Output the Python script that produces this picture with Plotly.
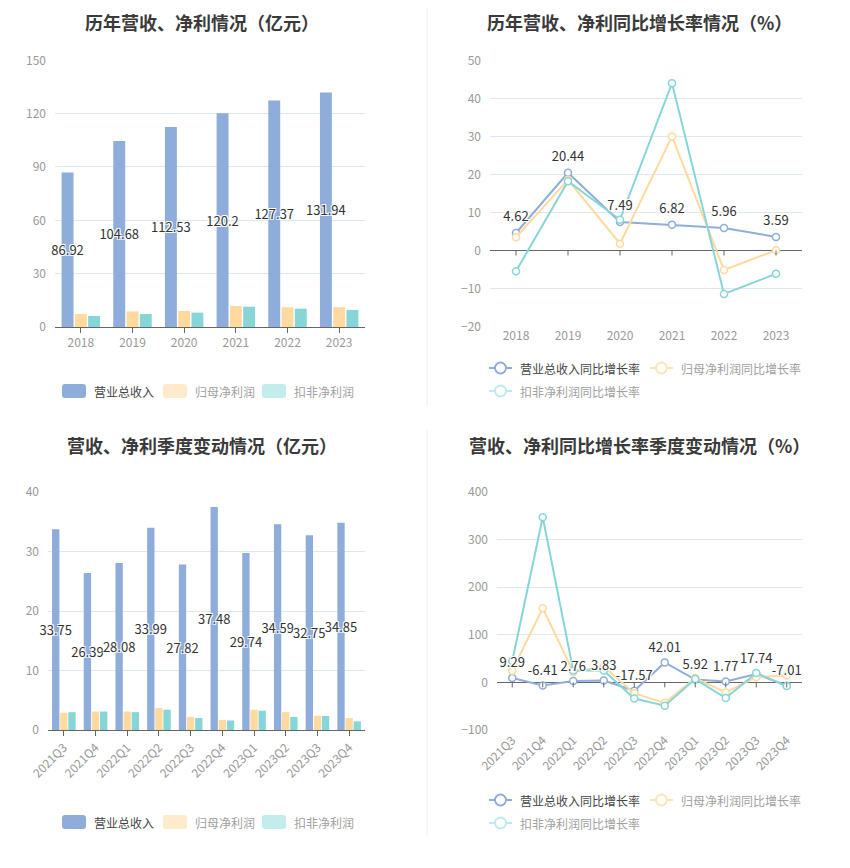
import plotly.graph_objects as go

# ---------------- data ----------------
years = ["2018", "2019", "2020", "2021", "2022", "2023"]
rev_year = [86.92, 104.68, 112.53, 120.2, 127.37, 131.94]
np_year = [7.3, 8.8, 9.0, 11.8, 11.1, 11.1]
dnp_year = [6.2, 7.3, 8.1, 11.4, 10.3, 9.6]

rev_yoy = [4.62, 20.44, 7.49, 6.82, 5.96, 3.59]
np_yoy = [3.5, 18.6, 1.8, 30.0, -5.1, 0.1]
dnp_yoy = [-5.4, 18.2, 8.1, 44.0, -11.4, -6.1]

quarters = ["2021Q3", "2021Q4", "2022Q1", "2022Q2", "2022Q3",
            "2022Q4", "2023Q1", "2023Q2", "2023Q3", "2023Q4"]
rev_q = [33.75, 26.39, 28.08, 33.99, 27.82, 37.48, 29.74, 34.59, 32.75, 34.85]
np_q = [2.9, 3.1, 3.1, 3.7, 2.2, 1.7, 3.4, 3.0, 2.4, 2.0]
dnp_q = [3.0, 3.1, 3.0, 3.4, 2.0, 1.6, 3.25, 2.2, 2.35, 1.45]

rev_q_yoy = [9.29, -6.41, 2.76, 3.83, -17.57, 42.01, 5.92, 1.77, 17.74, -7.01]
np_q_yoy = [24.5, 156, 22, 33, -23, -43, 9, -21, 11, 14.7]
dnp_q_yoy = [45, 347, 25, 25, -34, -49, 7, -33, 19.6, -7.7]

titles = ["历年营收、净利情况（亿元）", "历年营收、净利同比增长率情况（%）",
          "营收、净利季度变动情况（亿元）", "营收、净利同比增长率季度变动情况（%）"]
bar_names = ["营业总收入", "归母净利润", "扣非净利润"]
line_names = ["营业总收入同比增长率", "归母净利润同比增长率", "扣非净利润同比增长率"]

# ---------------- style ----------------
W, H = 850, 868
OFF = 8  # page body margin
FONT = "Noto Sans CJK SC, Noto Sans, sans-serif"
C_BLUE, C_ORANGE, C_TEAL = "#8eaddb", "#ffd99d", "#86d6d8"
LEG_BAR = ["#8eaddb", "#ffebcc", "#c3ecec"]
LEG_LINE = ["#8eaddb", "#ffe2b5", "#bfe9ea"]
LEG_TXT = ["#444444", "#a0a0a0", "#a0a0a0"]
GRID = "#e0e6f1"
HALO = "-1px -1px 0 #fff, 1px -1px 0 #fff, -1px 1px 0 #fff, 1px 1px 0 #fff"


def px(x):
    return (x - OFF) / W


def py(y):
    return 1 - (y - OFF) / H


fig = go.Figure()

# ---- chart 1: yearly bars ----
for vals, name, col in [(rev_year, bar_names[0], C_BLUE),
                        (np_year, bar_names[1], C_ORANGE),
                        (dnp_year, bar_names[2], C_TEAL)]:
    kw = {}
    if vals is rev_year:
        kw = dict(text=[f"{v:g}" for v in vals], textposition="inside",
                  insidetextanchor="middle", textangle=0, constraintext="none",
                  insidetextfont=dict(color="#333", size=13, family=FONT, shadow=HALO))
    fig.add_trace(go.Bar(x=years, y=vals, name=name, marker_color=col, cliponaxis=False,
                         xaxis="x", yaxis="y", showlegend=False, **kw))

# ---- chart 3: quarterly bars ----
for vals, name, col in [(rev_q, bar_names[0], C_BLUE),
                        (np_q, bar_names[1], C_ORANGE),
                        (dnp_q, bar_names[2], C_TEAL)]:
    kw = {}
    if vals is rev_q:
        kw = dict(text=[f"{v:g}" for v in vals], textposition="inside",
                  insidetextanchor="middle", textangle=0, constraintext="none",
                  insidetextfont=dict(color="#333", size=13, family=FONT, shadow=HALO))
    fig.add_trace(go.Bar(x=quarters, y=vals, name=name, marker_color=col, cliponaxis=False,
                         xaxis="x3", yaxis="y3", showlegend=False, **kw))


def add_lines(cats, series, xa, ya, label_vals, lab_size):
    for vals, name, col in series:
        fig.add_trace(go.Scatter(
            x=cats, y=vals, name=name, mode="lines+markers",
            line=dict(color=col, width=2), cliponaxis=False,
            marker=dict(symbol="circle", size=7, color="white",
                        line=dict(color=col, width=1.5)),
            xaxis=xa, yaxis=ya, showlegend=False))
    fig.add_trace(go.Scatter(
        x=cats, y=label_vals, mode="markers+text", cliponaxis=False,
        marker=dict(size=lab_size, color="rgba(0,0,0,0)"),
        text=[f"{v:g}" for v in label_vals], textposition="top center",
        textfont=dict(color="#333", size=13, family=FONT, shadow=HALO),
        xaxis=xa, yaxis=ya, showlegend=False, hoverinfo="skip"))


add_lines(years, [(rev_yoy, line_names[0], C_BLUE),
                  (np_yoy, line_names[1], C_ORANGE),
                  (dnp_yoy, line_names[2], C_TEAL)], "x2", "y2", rev_yoy, 12)
add_lines(quarters, [(rev_q_yoy, line_names[0], C_BLUE),
                     (np_q_yoy, line_names[1], C_ORANGE),
                     (dnp_q_yoy, line_names[2], C_TEAL)], "x4", "y4", rev_q_yoy, 10)

# ---------------- axes ----------------
dom = {
    1: ([px(55), px(365)], [py(327), py(60.3)]),
    2: ([px(490), px(802)], [py(326.7), py(60.3)]),
    3: ([px(48), px(365)], [py(730), py(492)]),
    4: ([px(497), px(802)], [py(730), py(492)]),
}
yr = {1: ([0, 150], 30), 2: ([-20, 50], 10), 3: ([0, 40], 10), 4: ([-100, 400], 100)}
ncat = {1: len(years), 2: len(years), 3: len(quarters), 4: len(quarters)}

layout_axes = {}
for i in range(1, 5):
    sx = "" if i == 1 else str(i)
    xd, yd = dom[i]
    bar_chart = i in (1, 3)
    layout_axes["xaxis" + sx] = dict(
        domain=xd, anchor="y" + sx, type="category", range=[-0.5, ncat[i] - 0.5],
        showline=bar_chart, linecolor="#666", linewidth=1, automargin=False,
        ticks="outside" if bar_chart else "", ticklen=5, tickcolor="#666",
        tickfont=dict(color="#999", size=12, family=FONT),
        tickangle=-45 if i in (3, 4) else 0,
        showgrid=False, zeroline=False, fixedrange=True)
    layout_axes["yaxis" + sx] = dict(
        domain=yd, anchor="x" + sx, range=yr[i][0], dtick=yr[i][1], automargin=False,
        showgrid=True, gridcolor=GRID, gridwidth=1,
        zeroline=not bar_chart, zerolinecolor="#666", zerolinewidth=1,
        showline=False, ticks="", ticklabelstandoff=8,
        tickfont=dict(color="#999", size=12, family=FONT), fixedrange=True)

shapes = []
annotations = []

# tick marks on zero line for line charts
for cats, xa, ya in [(years, "x2", "y2"), (quarters, "x4", "y4")]:
    for idx in range(len(cats)):
        shapes.append(dict(type="line", xref=xa, yref=ya, x0=idx, x1=idx,
                           ysizemode="pixel", yanchor=0, y0=0, y1=-5,
                           line=dict(color="#666", width=1)))

# separators
shapes.append(dict(type="line", xref="paper", yref="paper", x0=px(427), x1=px(427),
                   y0=py(8), y1=py(406), line=dict(color="#eeeeee", width=1)))
shapes.append(dict(type="line", xref="paper", yref="paper", x0=px(427), x1=px(427),
                   y0=py(430), y1=py(836), line=dict(color="#eeeeee", width=1)))

# titles (top row anchored at the top edge of the drawing so nothing is cut)
for t, (cx, cy, anc) in zip(titles, [(202, 8, "top"), (639, 8, "top"),
                                     (202, 445, "middle"), (639, 445, "middle")]):
    annotations.append(dict(text=f"<b>{t}</b>", x=px(cx), y=py(cy), xref="paper", yref="paper",
                            xanchor="center", yanchor=anc, showarrow=False, borderpad=0,
                            font=dict(size=18, color="#3a3a3a", family=FONT)))


def rrect(x0, y0, x1, y1, r):
    def P(x, y):
        return f"{px(x):.5f},{py(y):.5f}"
    return (f"M {P(x0 + r, y0)} L {P(x1 - r, y0)} Q {P(x1, y0)} {P(x1, y0 + r)} "
            f"L {P(x1, y1 - r)} Q {P(x1, y1)} {P(x1 - r, y1)} "
            f"L {P(x0 + r, y1)} Q {P(x0, y1)} {P(x0, y1 - r)} "
            f"L {P(x0, y0 + r)} Q {P(x0, y0)} {P(x0 + r, y0)} Z")


# bar legends
for ly in (391, 822):
    for k, sx0 in enumerate([62, 163, 262]):
        shapes.append(dict(type="path", xref="paper", yref="paper",
                           path=rrect(sx0, ly - 7, sx0 + 24, ly + 7, 3),
                           fillcolor=LEG_BAR[k], line=dict(width=0)))
        annotations.append(dict(text=bar_names[k], x=px(sx0 + 30), y=py(ly), xref="paper",
                                yref="paper", xanchor="left", yanchor="middle", showarrow=False,
                                font=dict(size=12, color=LEG_TXT[k], family=FONT)))

# line legends
for r1, r2 in ((368, 391), (800, 823)):
    for k, (sx0, ly) in enumerate([(489, r1), (650, r1), (489, r2)]):
        shapes.append(dict(type="line", xref="paper", yref="paper",
                           x0=px(sx0), x1=px(sx0 + 23), y0=py(ly), y1=py(ly),
                           line=dict(color=LEG_LINE[k], width=2)))
        cx = sx0 + 11.5
        shapes.append(dict(type="circle", xref="paper", yref="paper",
                           x0=px(cx - 5.5), x1=px(cx + 5.5), y0=py(ly + 5.5), y1=py(ly - 5.5),
                           fillcolor="white", line=dict(color=LEG_LINE[k], width=2)))
        annotations.append(dict(text=line_names[k], x=px(sx0 + 29), y=py(ly), xref="paper",
                                yref="paper", xanchor="left", yanchor="middle", showarrow=False,
                                font=dict(size=12, color=LEG_TXT[k], family=FONT)))

fig.update_layout(
    template="none",
    width=W, height=H, margin=dict(l=0, r=0, t=0, b=0, pad=0),
    paper_bgcolor="white", plot_bgcolor="white",
    font=dict(family=FONT, color="#333"),
    barmode="group", bargap=0.23, bargroupgap=0.1,
    shapes=shapes, annotations=annotations, showlegend=False,
    **layout_axes)

fig.write_html("out.html")
